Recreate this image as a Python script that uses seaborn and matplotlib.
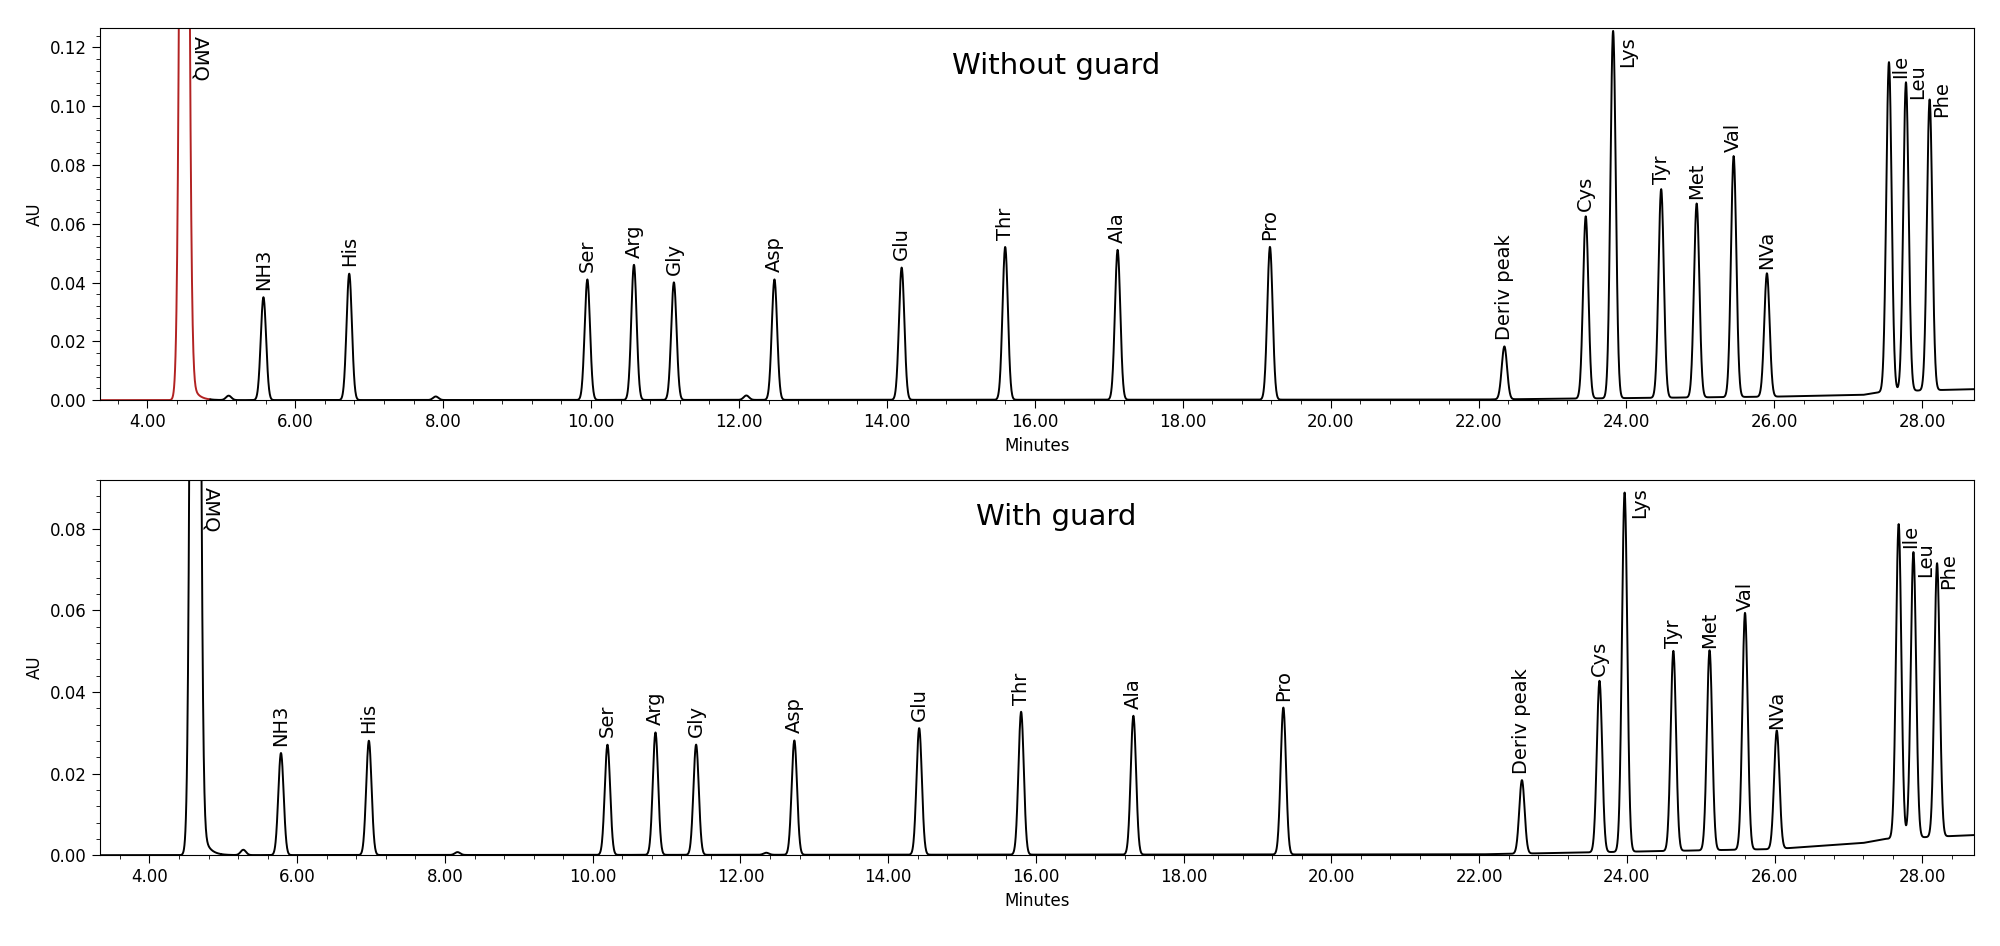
import numpy as np
import pandas as pd
import matplotlib.pyplot as plt
import seaborn as sns
from matplotlib.ticker import MultipleLocator, FormatStrFormatter

# Peak tables (retention time in min, height in AU)
names = ['AMQ', '', 'NH3', 'His', '', 'Ser', 'Arg', 'Gly', '', 'Asp', 'Glu', 'Thr', 'Ala', 'Pro',
         'Deriv peak', 'Cys', 'Lys', 'Tyr', 'Met', 'Val', 'NVa', 'Ile', 'Leu', 'Phe']
rt_top = [4.50, 5.10, 5.57, 6.73, 7.90, 9.95, 10.58, 11.12, 12.10, 12.48, 14.20, 15.60, 17.12, 19.18,
          22.35, 23.45, 23.82, 24.47, 24.95, 25.45, 25.90, 27.55, 27.78, 28.10]
h_top = [0.50, 0.0015, 0.035, 0.043, 0.0012, 0.041, 0.046, 0.040, 0.0015, 0.041, 0.045, 0.052, 0.051, 0.052,
         0.018, 0.062, 0.125, 0.071, 0.066, 0.082, 0.042, 0.112, 0.105, 0.099]
rt_bot = [4.62, 5.27, 5.78, 6.97, 8.17, 10.20, 10.85, 11.40, 12.35, 12.73, 14.42, 15.80, 17.32, 19.35,
          22.58, 23.63, 23.97, 24.63, 25.12, 25.60, 26.03, 27.68, 27.88, 28.20]
h_bot = [0.50, 0.0013, 0.025, 0.028, 0.0007, 0.027, 0.030, 0.027, 0.0005, 0.028, 0.031, 0.035, 0.034, 0.036,
         0.018, 0.042, 0.088, 0.049, 0.049, 0.058, 0.029, 0.077, 0.070, 0.067]
# baseline drift points (min, AU)
drift_t = [3.3, 22.0, 26.0, 27.2, 27.5, 28.8]
drift_top = [0.0, 0.0002, 0.0012, 0.0018, 0.003, 0.0038]
drift_bot = [0.0, 0.0002, 0.0015, 0.0030, 0.0040, 0.0050]

def trace(rts, hs, drift):
    t = np.linspace(3.3, 28.8, 8000)
    y = np.interp(t, drift_t, drift)
    for i, (r, h) in enumerate(zip(rts, hs)):
        s = 0.045 if i == 0 else 0.036
        y = y + h * np.exp(-0.5 * ((t - r) / s) ** 2)
        if i == 0:
            y = y + np.where(t > r, 0.02 * np.exp(-(t - r) / 0.08), 0)
    return pd.DataFrame({'Minutes': t, 'AU': y})

fig = plt.figure(figsize=(20, 9.46), dpi=100)
ax1 = fig.add_axes([0.05, 0.577, 0.937, 0.393])
ax2 = fig.add_axes([0.05, 0.096, 0.937, 0.397])

panels = [(ax1, rt_top, h_top, drift_top, 'Without guard', 0.1265, 3.36, '#b22222'),
          (ax2, rt_bot, h_bot, drift_bot, 'With guard', 0.092, 3.33, 'black')]

for ax, rts, hs, drift, title, ymax, xmin, amq_color in panels:
    df = trace(rts, hs, drift)
    amq = df[df['Minutes'] < rts[0] + 0.35]
    rest = df[df['Minutes'] >= rts[0] + 0.35 - 1e-9]
    sns.lineplot(data=amq, x='Minutes', y='AU', ax=ax, color=amq_color, lw=1.4)
    sns.lineplot(data=rest, x='Minutes', y='AU', ax=ax, color='black', lw=1.4)
    ax.set_xlim(xmin, 28.7)
    ax.set_ylim(0, ymax)
    ax.xaxis.set_major_locator(MultipleLocator(2))
    ax.xaxis.set_minor_locator(MultipleLocator(0.4))
    ax.xaxis.set_major_formatter(FormatStrFormatter('%.2f'))
    ax.yaxis.set_major_locator(MultipleLocator(0.02))
    ax.yaxis.set_minor_locator(MultipleLocator(0.004))
    ax.yaxis.set_major_formatter(FormatStrFormatter('%.2f'))
    ax.tick_params(labelsize=12, length=6)
    ax.tick_params(which='minor', length=3)
    ax.set_xlabel('Minutes', fontsize=12)
    ax.set_ylabel('AU', fontsize=12)
    ax.text(0.51, 0.9, title, transform=ax.transAxes, ha='center', va='center', fontsize=21)
    for n, r, h in zip(names, rts, hs):
        if not n:
            continue
        if n == 'AMQ':
            ax.text(r + 0.08, ymax * 0.98, n, rotation=-90, ha='left', va='top', fontsize=14)
        elif n == 'Lys':
            ax.text(r + 0.07, ymax * 0.98, n, rotation=90, ha='left', va='top', fontsize=14)
        elif n in ('Ile', 'Leu', 'Phe'):
            ax.text(r + 0.03, h - ymax * 0.02, n, rotation=90, ha='left', va='bottom', fontsize=14)
        else:
            ax.text(r, h + ymax * 0.02, n, rotation=90, ha='center', va='bottom', fontsize=14)

fig.savefig('out.png', dpi=100)
